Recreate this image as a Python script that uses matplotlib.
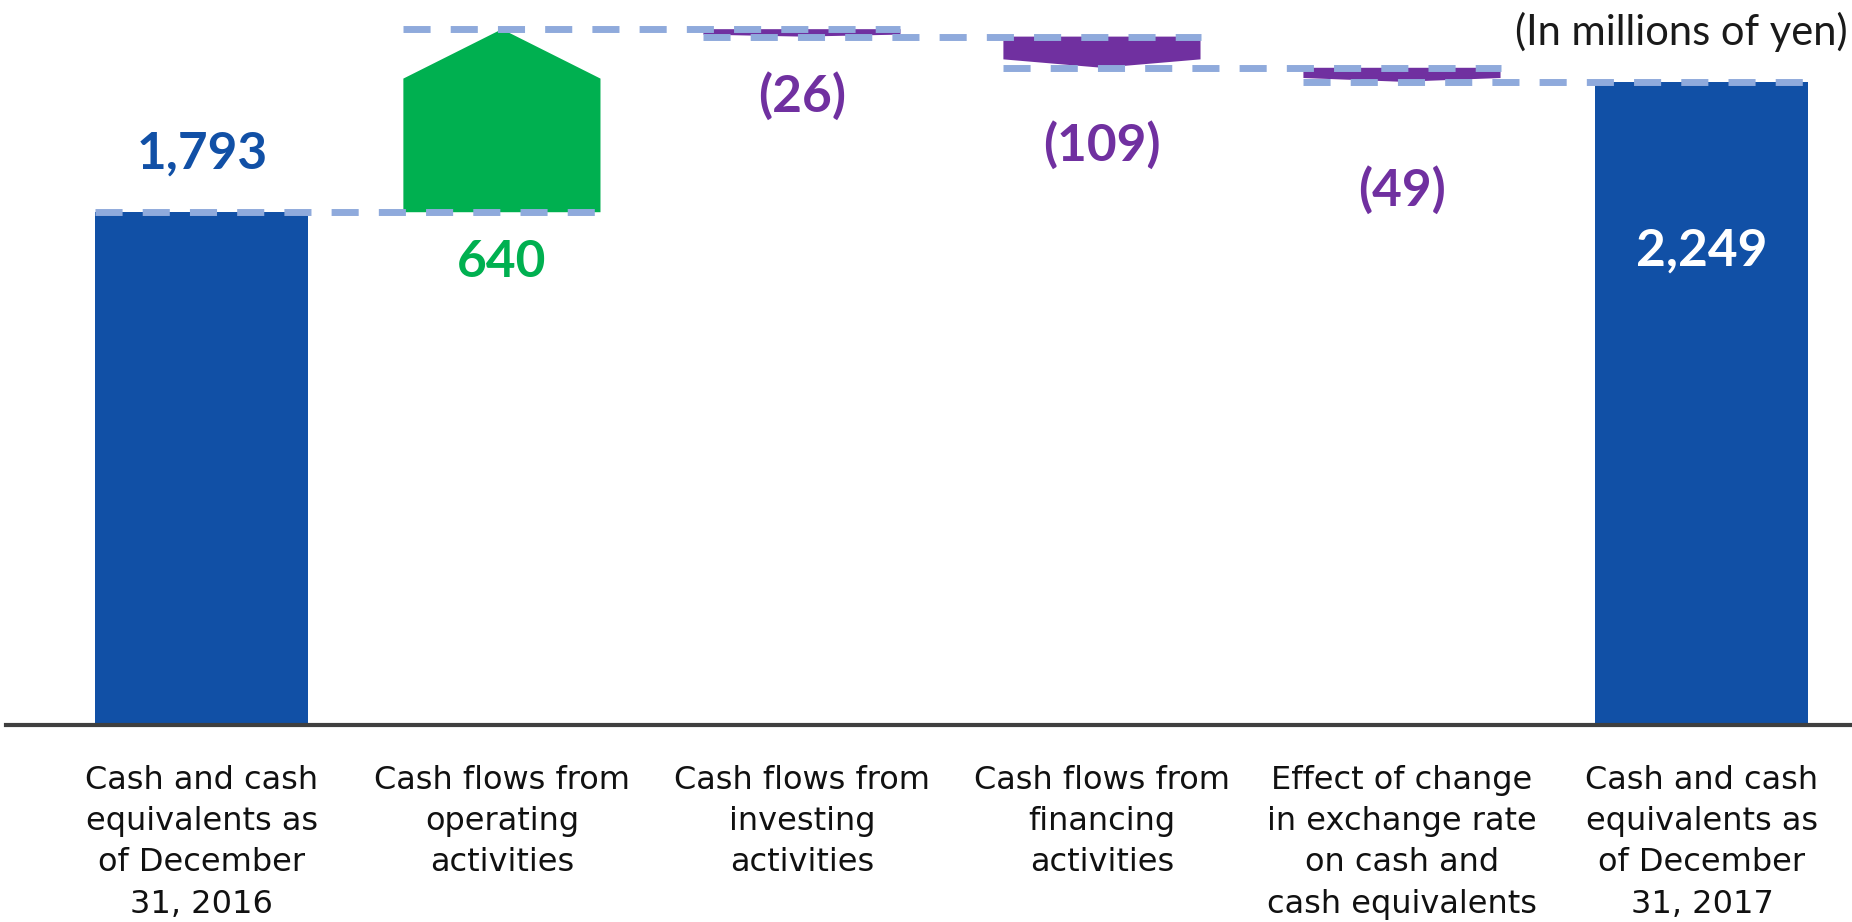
import matplotlib.pyplot as plt
from matplotlib.patches import Polygon, Rectangle

# data
categories = ['Cash and cash\nequivalents as\nof December\n31, 2016',
              'Cash flows from\noperating\nactivities',
              'Cash flows from\ninvesting\nactivities',
              'Cash flows from\nfinancing\nactivities',
              'Effect of change\nin exchange rate\non cash and\ncash equivalents',
              'Cash and cash\nequivalents as\nof December\n31, 2017']
values = [1793, 640, -26, -109, -49, 2249]
kinds = ['total', 'flow', 'flow', 'flow', 'flow', 'total']
value_labels = ['1,793', '640', '(26)', '(109)', '(49)', '2,249']
unit_note = '(In millions of yen)'

BLUE = '#1150a6'
GREEN = '#00b050'
PURPLE = '#7030a0'
DASH = '#8faadc'

plt.rcParams['font.family'] = ['Lato', 'DejaVu Sans']

fig = plt.figure(figsize=(18.52, 9.22), dpi=100)
ax = fig.add_axes([6 / 1852, 197 / 922, 1 - 6 / 1852, 725 / 922])
ax.set_xlim(-0.653, 5.5)
ax.set_ylim(0, 2535)

bar_w = 0.71
arrow_w = 0.657
head = 0.27

# running levels: (start, end) for every column
levels = []
run = 0
for v, k in zip(values, kinds):
    if k == 'total':
        levels.append((0, v))
        run = v
    else:
        levels.append((run, run + v))
        run = run + v

for i, (k, (s, e)) in enumerate(zip(kinds, levels)):
    if k == 'total':
        ax.add_patch(Rectangle((i - bar_w / 2, 0), bar_w, e, color=BLUE, lw=0, zorder=2))
    else:
        d = e - s
        col = GREEN if d > 0 else PURPLE
        pts = [(i - arrow_w / 2, s), (i + arrow_w / 2, s),
               (i + arrow_w / 2, s + (1 - head) * d), (i, e),
               (i - arrow_w / 2, s + (1 - head) * d)]
        ax.add_patch(Polygon(pts, closed=True, color=col, lw=0, zorder=2))

# dashed connectors: from left edge of one column to right edge of the next
half = [bar_w / 2 if k == 'total' else arrow_w / 2 for k in kinds]
for i in range(len(values) - 1):
    y = levels[i][1]
    ax.plot([i - half[i], i + 1 + half[i + 1]], [y, y], color=DASH, lw=5,
            linestyle=(0, (3.9, 2.9)), dash_capstyle='butt', zorder=3)

# value labels (offsets in points from the reference level)
label_ref = [levels[0][1], levels[1][0], levels[2][1], levels[3][1], levels[4][1], levels[5][1]]
label_off = [42, -36, -43, -56, -78, -122]
label_col = [BLUE, GREEN, PURPLE, PURPLE, PURPLE, 'white']
for i, txt in enumerate(value_labels):
    ax.annotate(txt, (i, label_ref[i]), xytext=(0, label_off[i]), textcoords='offset points',
                ha='center', va='center', fontsize=37, fontweight='bold',
                color=label_col[i], zorder=4)

fig.text(1848 / 1852, 1 - 32 / 922, unit_note, ha='right', va='center',
         fontsize=30, color='#1a1a1a')

ax.set_xticks(range(len(categories)))
ax.set_xticklabels(categories, fontsize=23, linespacing=1.42, color='#111111', va='top',
                   family=['DejaVu Sans'])
ax.tick_params(axis='x', length=0, pad=29)
ax.set_yticks([])
for sp in ['top', 'left', 'right']:
    ax.spines[sp].set_visible(False)
ax.spines['bottom'].set_color('#3f3f3f')
ax.spines['bottom'].set_linewidth(3)

fig.savefig('out.png', dpi=100)
